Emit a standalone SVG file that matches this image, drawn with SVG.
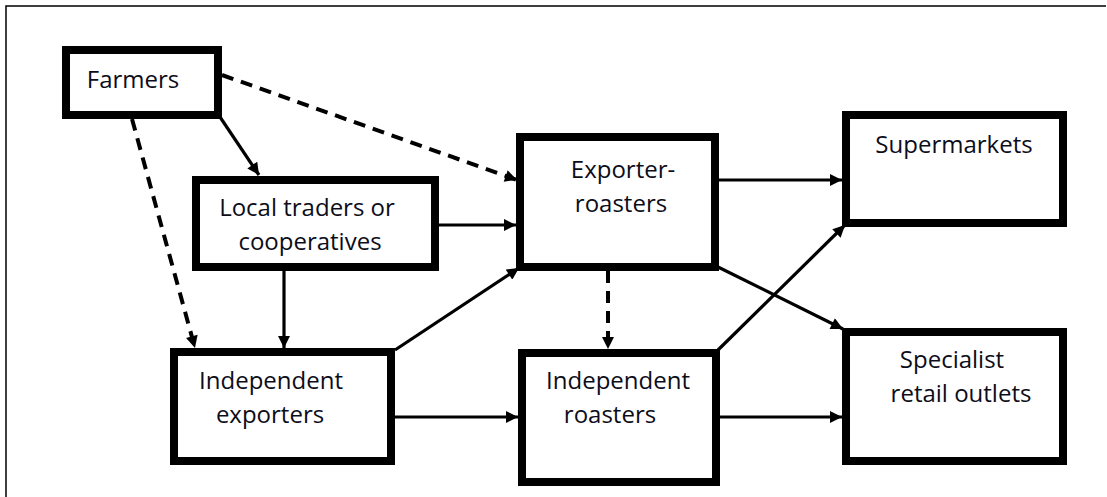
<svg xmlns="http://www.w3.org/2000/svg" width="1107" height="497" viewBox="0 0 1107 497">
<style>
.box{fill:#fff;stroke:#000;stroke-width:8}
.t{font-family:"Open Sans","Noto Sans","Liberation Sans",sans-serif;font-size:24px;fill:#0d0d1a;text-anchor:middle}
.c{stroke:#000;stroke-width:3.2;fill:none}
.d{stroke:#000;stroke-width:4;fill:none;stroke-dasharray:12 8}
.frame{stroke:#000;stroke-width:1.5;fill:none}
</style>
<defs>
<marker id="ah" viewBox="0 0 10 10" refX="10" refY="5" markerUnits="userSpaceOnUse" markerWidth="13" markerHeight="12" orient="auto">
<path d="M0,0 L10,5 L0,10 z" fill="#000"/>
</marker>
</defs>
<rect width="1107" height="497" fill="#fff"/>
<path class="frame" d="M6,497 L6,6 L1106,6"/>
<g id="connectors">
<line class="c" x1="220" y1="117" x2="259" y2="175" marker-end="url(#ah)"/>
<line class="d" x1="222" y1="75" x2="517" y2="180" marker-end="url(#ah)"/>
<line class="d" x1="132" y1="119" x2="195" y2="348" marker-end="url(#ah)"/>
<line class="c" x1="284" y1="271" x2="284" y2="348" marker-end="url(#ah)"/>
<line class="c" x1="439" y1="225" x2="516" y2="225" marker-end="url(#ah)"/>
<line class="c" x1="395" y1="350" x2="519" y2="268" marker-end="url(#ah)"/>
<line class="c" x1="395" y1="417" x2="518" y2="417" marker-end="url(#ah)"/>
<line class="d" x1="608" y1="271" x2="608" y2="349" marker-end="url(#ah)"/>
<line class="c" x1="719" y1="180" x2="842" y2="180" marker-end="url(#ah)"/>
<line class="c" x1="718" y1="267" x2="843" y2="329" marker-end="url(#ah)"/>
<line class="c" x1="718" y1="350" x2="845" y2="225" marker-end="url(#ah)"/>
<line class="c" x1="720" y1="417" x2="842" y2="417" marker-end="url(#ah)"/>
</g>
<g id="farmers">
<rect class="box" x="66" y="50" width="152" height="65"/>
<text class="t" x="133" y="88">Farmers</text>
</g>
<g id="local-traders">
<rect class="box" x="196" y="180" width="239" height="87"/>
<text class="t" x="307" y="216">Local traders or</text>
<text class="t" x="310" y="250">cooperatives</text>
</g>
<g id="exporter-roasters">
<rect class="box" x="520" y="137" width="195" height="130"/>
<text class="t" x="623" y="178">Exporter-</text>
<text class="t" x="621" y="212">roasters</text>
</g>
<g id="independent-exporters">
<rect class="box" x="174" y="352" width="217" height="109"/>
<text class="t" x="271" y="389">Independent</text>
<text class="t" x="270" y="423">exporters</text>
</g>
<g id="independent-roasters">
<rect class="box" x="522" y="353" width="194" height="129"/>
<text class="t" x="618" y="389">Independent</text>
<text class="t" x="610" y="423">roasters</text>
</g>
<g id="supermarkets">
<rect class="box" x="846" y="115" width="217" height="108"/>
<text class="t" x="954" y="153">Supermarkets</text>
</g>
<g id="specialist">
<rect class="box" x="846" y="332" width="217" height="129"/>
<text class="t" x="952" y="368">Specialist</text>
<text class="t" x="961" y="402">retail outlets</text>
</g>
</svg>
